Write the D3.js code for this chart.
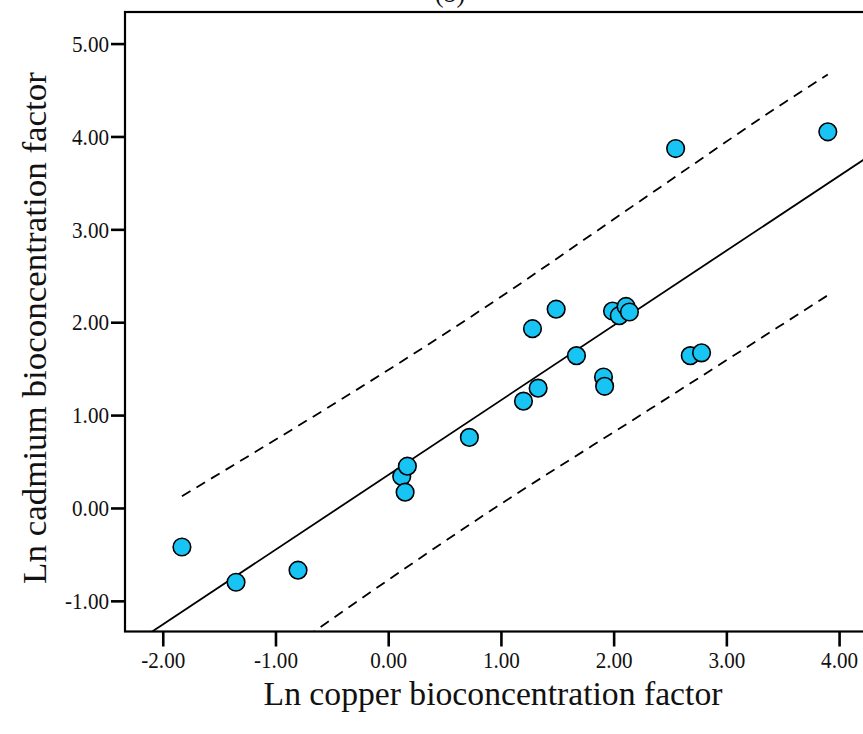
<!DOCTYPE html>
<html>
<head>
<meta charset="utf-8">
<script src="https://cdn.jsdelivr.net/npm/d3@7/dist/d3.min.js"></script>
<style>
  html, body { margin: 0; padding: 0; background: #fff; }
  svg { display: block; }
  text { font-family: "Liberation Serif", "Times New Roman", serif; fill: #111; }
</style>
</head>
<body>
<svg id="chart" width="863" height="734"></svg>
<script>
// Ln copper vs Ln cadmium bioconcentration factors
const lnCopper = [-1.83, -1.35, -0.80, 0.12, 0.17, 0.15, 0.72, 1.20, 1.33, 1.28, 1.49, 1.67,
                  1.91, 1.92, 1.99, 2.05, 2.11, 2.14, 2.55, 2.68, 2.78, 3.90];
const lnCadmium = [-0.42, -0.80, -0.67, 0.34, 0.45, 0.17, 0.76, 1.15, 1.29, 1.93, 2.14, 1.64,
                   1.41, 1.31, 2.12, 2.07, 2.17, 2.11, 3.87, 1.64, 1.67, 4.05];

// Fitted regression line (intercept, slope)
const fitIntercept = 0.355;
const fitSlope = 0.805;

// Upper and lower 95% prediction limits
const upperX = [-1.83, 0.82, 2.33, 3.52, 3.90];
const upperY = [0.127, 2.128, 3.384, 4.369, 4.667];
const lowerX = [-1.83, -0.41, 0.82, 2.33, 3.90];
const lowerY = [-2.34, -1.12, -0.10, 1.07, 2.29];

const xTicks = [-2, -1, 0, 1, 2, 3, 4];
const yTicks = [-1, 0, 1, 2, 3, 4, 5];

const xTitle = "Ln copper bioconcentration factor";
const yTitle = "Ln cadmium bioconcentration factor";
const chartTitle = "(b)";

const svg = d3.select("#chart");
const plotLeft = 125, plotTop = 12, plotBottom = 631.5;
const xMin = -2.335, xMax = 4.33, yMin = -1.33, yMax = 5.34;
const pxPerX = 112.72;
const plotRight = plotLeft + (xMax - xMin) * pxPerX;
const squeeze = 0.88; // narrow type for tick labels

const x = d3.scaleLinear().domain([xMin, xMax]).range([plotLeft, plotRight]);
const y = d3.scaleLinear().domain([yMin, yMax]).range([plotBottom, plotTop]);

// clip region for plot contents
svg.append("defs").append("clipPath").attr("id", "plotClip")
  .append("rect").attr("x", plotLeft).attr("y", plotTop)
  .attr("width", plotRight - plotLeft).attr("height", plotBottom - plotTop);

const plot = svg.append("g").attr("clip-path", "url(#plotClip)");

// regression line
plot.append("line")
  .attr("x1", x(xMin)).attr("y1", y(fitIntercept + fitSlope * xMin))
  .attr("x2", x(xMax)).attr("y2", y(fitIntercept + fitSlope * xMax))
  .attr("stroke", "#000").attr("stroke-width", 1.8);

const band = d3.line().x(d => x(d[0])).y(d => y(d[1])).curve(d3.curveMonotoneX);
[[upperX, upperY], [lowerX, lowerY]].forEach(([xs, ys]) => {
  plot.append("path")
    .attr("d", band(xs.map((v, i) => [v, ys[i]])))
    .attr("fill", "none").attr("stroke", "#000")
    .attr("stroke-width", 1.8).attr("stroke-dasharray", "10,7");
});

// data points
plot.selectAll("circle.pt").data(lnCopper.map((v, i) => [v, lnCadmium[i]]))
  .enter().append("circle").attr("class", "pt")
  .attr("cx", d => x(d[0])).attr("cy", d => y(d[1]))
  .attr("r", 8.8)
  .attr("fill", "#17C4F3").attr("stroke", "#000").attr("stroke-width", 1.6);

// frame
svg.append("rect").attr("x", plotLeft).attr("y", plotTop)
  .attr("width", plotRight - plotLeft).attr("height", plotBottom - plotTop)
  .attr("fill", "none").attr("stroke", "#000").attr("stroke-width", 2.2);

// axes
const fmt = v => d3.format(".2f")(v).replace("\u2212", "-");
const xAxis = d3.axisBottom(x).tickValues(xTicks).tickFormat(fmt).tickSize(15).tickPadding(4);
const yAxis = d3.axisLeft(y).tickValues(yTicks).tickFormat(fmt).tickSize(14).tickPadding(2);

const gx = svg.append("g").attr("transform", `translate(0,${plotBottom})`).call(xAxis);
const gy = svg.append("g").attr("transform", `translate(${plotLeft},0)`).call(yAxis);
[gx, gy].forEach(g => {
  g.select(".domain").remove();
  g.selectAll(".tick line").attr("stroke", "#000").attr("stroke-width", 2.6);
  g.selectAll(".tick text").style("font-family", '"Liberation Serif", serif')
    .style("font-size", "24px").attr("fill", "#111");
});
gx.selectAll(".tick text").attr("transform", `scale(${squeeze},1)`);
gy.selectAll(".tick text").attr("x", -16 / squeeze).attr("transform", `scale(${squeeze},1)`);

// titles
svg.append("text").attr("transform", "translate(493,705) scale(0.99,1)")
  .attr("text-anchor", "middle").style("font-size", "34px").text(xTitle);
svg.append("text").attr("transform", "translate(46,328) scale(0.94,1) rotate(-90)")
  .attr("text-anchor", "middle").style("font-size", "35px").text(yTitle);
svg.append("text").attr("transform", "translate(450,2) scale(0.94,1)")
  .attr("text-anchor", "middle").style("font-size", "28px").text(chartTitle);
</script>
</body>
</html>
